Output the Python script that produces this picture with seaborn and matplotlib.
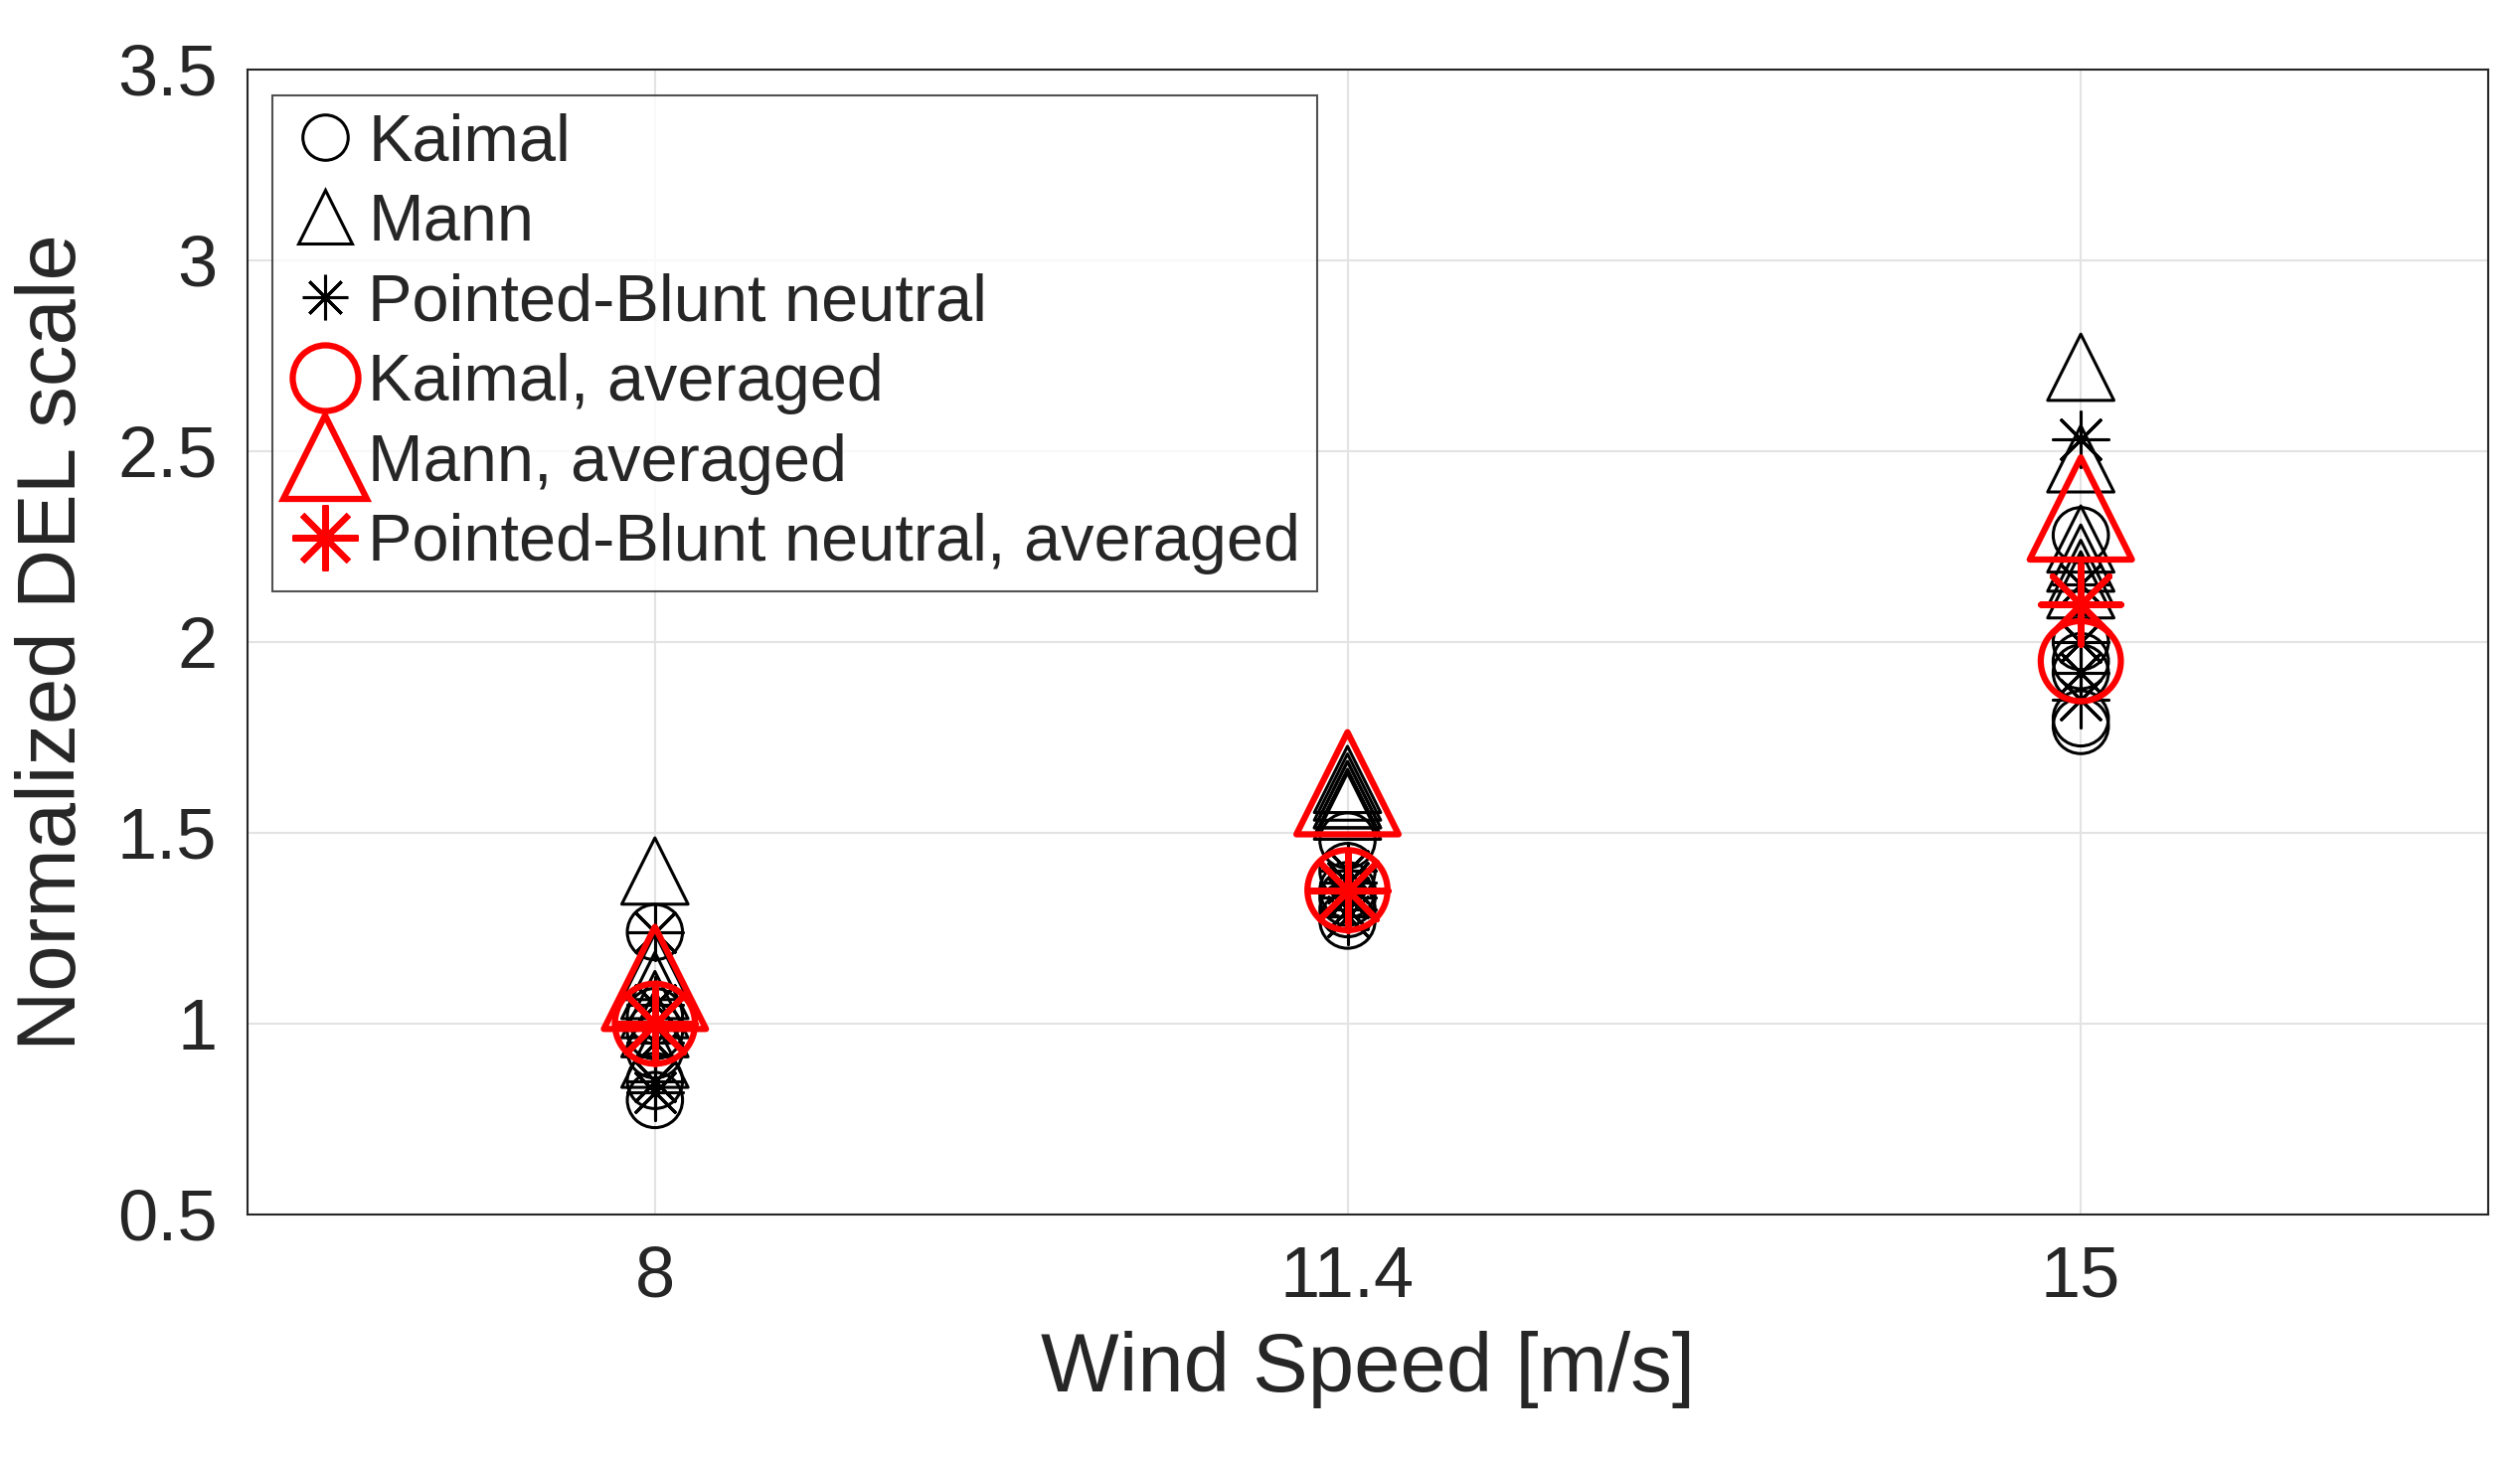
import numpy as np
import pandas as pd
import matplotlib
matplotlib.use('Agg')
import matplotlib.pyplot as plt
from matplotlib.lines import Line2D
import seaborn as sns

# ── data ────────────────────────────────────────────────────────────────────
speeds = [8, 11.4, 15]
kaimal = {8: [1.24, 1.02, 0.98, 0.93, 0.85, 0.80],
          11.4: [1.48, 1.40, 1.35, 1.33, 1.30, 1.27],
          15: [2.28, 2.00, 1.95, 1.92, 1.80, 1.78]}
mann = {8: [1.40, 1.15, 1.10, 1.05, 1.00, 0.92],
        11.4: [1.64, 1.62, 1.60, 1.60, 1.58, 1.57],
        15: [2.72, 2.48, 2.27, 2.22, 2.18, 2.15]}
pointed = {8: [1.24, 1.05, 1.00, 0.95, 0.85, 0.82],
           11.4: [1.40, 1.37, 1.35, 1.33, 1.30, 1.28],
           15: [2.53, 2.15, 2.10, 2.00, 1.92, 1.85]}
kaimal_avg = [1.00, 1.35, 1.95]
mann_avg = [1.12, 1.63, 2.35]
pointed_avg = [1.00, 1.35, 2.10]

def long(d):
    return pd.DataFrame([(k, v) for k, vs in d.items() for v in vs], columns=['x', 'y'])

# ── style ───────────────────────────────────────────────────────────────────
sns.set_theme(style='whitegrid')
plt.rcParams.update({
    'font.family': ['Liberation Sans', 'DejaVu Sans'],
    'grid.color': '#e3e3e3',
    'grid.linewidth': 1.5,
    'axes.edgecolor': '#262626',
    'axes.linewidth': 1.5,
})

fig = plt.figure(figsize=(25.35, 14.69), dpi=100)
ax = fig.add_axes([249 / 2535, 1 - 1222 / 1469, 2254 / 2535, 1152 / 1469])

AST = (8, 2, 0)
series = [
    (long(kaimal), 'o', 'black', 40, 2.2, 'Kaimal'),
    (long(mann), '^', 'black', 48, 2.2, 'Mann'),
    (long(pointed), AST, 'black', 40, 2.2, 'Pointed-Blunt neutral'),
    (pd.DataFrame({'x': speeds, 'y': kaimal_avg}), 'o', 'red', 58, 4.5, 'Kaimal, averaged'),
    (pd.DataFrame({'x': speeds, 'y': mann_avg}), '^', 'red', 74, 4.5, 'Mann, averaged'),
    (pd.DataFrame({'x': speeds, 'y': pointed_avg}), AST, 'red', 58, 4.5,
     'Pointed-Blunt neutral, averaged'),
]

handles = []
for df, m, c, ms, lw, lab in series:
    if m == AST:
        sns.scatterplot(data=df, x='x', y='y', ax=ax, marker=m, s=ms ** 2,
                        color=c, edgecolor=c, linewidth=lw, zorder=3)
    else:
        sns.scatterplot(data=df, x='x', y='y', ax=ax, marker=m, s=ms ** 2,
                        facecolor='none', edgecolor=c, linewidth=lw, zorder=3)
    handles.append(Line2D([], [], ls='none', marker=m, markersize=ms * 0.82,
                          markerfacecolor='none', markeredgecolor=c,
                          color=c, markeredgewidth=lw, label=lab))

ax.set_xlim(6, 17)
ax.set_ylim(0.5, 3.5)
ax.set_xticks(speeds)
ax.set_xticklabels(['8', '11.4', '15'])
ax.set_yticks(np.arange(0.5, 3.51, 0.5))
ax.set_yticklabels(['0.5', '1', '1.5', '2', '2.5', '3', '3.5'])
ax.tick_params(labelsize=52, colors='#262626', pad=16)
ax.set_xlabel('Wind Speed [m/s]', fontsize=60, color='#262626', labelpad=14)
ax.set_ylabel('Normalized DEL scale', fontsize=60, color='#262626', labelpad=18)

leg = ax.legend(handles=handles, loc='upper left', bbox_to_anchor=(0.011, 0.977),
                fontsize=48, frameon=True, fancybox=False, edgecolor='#262626',
                handlelength=1.1, handletextpad=0.1, labelspacing=0.28,
                borderpad=0.25, borderaxespad=0)
leg.get_frame().set_linewidth(1.5)

fig.savefig('out.png', dpi=100, facecolor='white')
